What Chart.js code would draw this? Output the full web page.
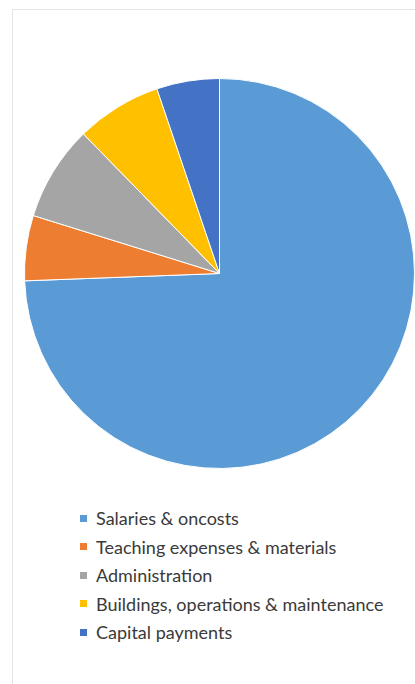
<!DOCTYPE html>
<html>
<head>
<meta charset="utf-8">
<script src="https://cdn.jsdelivr.net/npm/chart.js@4"></script>
<style>
  body { margin: 0; background: #fff; width: 415px; height: 684px; overflow: hidden; position: relative; }
  #frame { position: absolute; left: 12px; top: 9px; width: 420px; height: 700px; border: 1.5px solid #e3e3e3; }
  #pie-wrap { position: absolute; left: 24px; top: 78px; width: 391px; height: 391px; }
  #legend { position: absolute; left: 80px; top: 504px; margin: 0; padding: 0; list-style: none;
            font-family: Lato, "Open Sans", sans-serif; font-size: 18px; color: #3a3a3a; }
  #legend li { height: 28.5px; line-height: 28px; display: flex; align-items: center; white-space: nowrap; }
  #legend span.box { display: inline-block; width: 7px; height: 7px; margin-right: 9px; }
</style>
</head>
<body>
<div id="frame"></div>
<div id="pie-wrap"><canvas id="pie"></canvas></div>
<ul id="legend"></ul>
<script>
// Data
const categories = [
  "Salaries & oncosts",
  "Teaching expenses & materials",
  "Administration",
  "Buildings, operations & maintenance",
  "Capital payments",
];
const shares = [74.4, 5.4, 7.9, 7.1, 5.2];
const colors = ["#5B9BD5", "#ED7D31", "#A5A5A5", "#FFC000", "#4472C4"];

const pieCtx = document.querySelector("#pie").getContext("2d");

const pieChart = new Chart(pieCtx, {
  type: "pie",
  data: {
    labels: categories,
    datasets: [
      {
        data: shares,
        backgroundColor: colors,
        borderColor: "#ffffff",
        borderWidth: 1,
      },
    ],
  },
  options: {
    responsive: true,
    maintainAspectRatio: false,
    animation: false,
    layout: { padding: 0 },
    plugins: {
      legend: { display: false },
      tooltip: { enabled: false },
    },
  },
});

// HTML legend built from the chart's own labels
const legendList = document.querySelector("#legend");
pieChart.options.plugins.legend.labels.generateLabels(pieChart).forEach((item) => {
  const li = document.createElement("li");
  const box = document.createElement("span");
  box.className = "box";
  box.style.background = item.fillStyle;
  li.appendChild(box);
  li.appendChild(document.createTextNode(item.text));
  legendList.appendChild(li);
});
</script>
</body>
</html>
